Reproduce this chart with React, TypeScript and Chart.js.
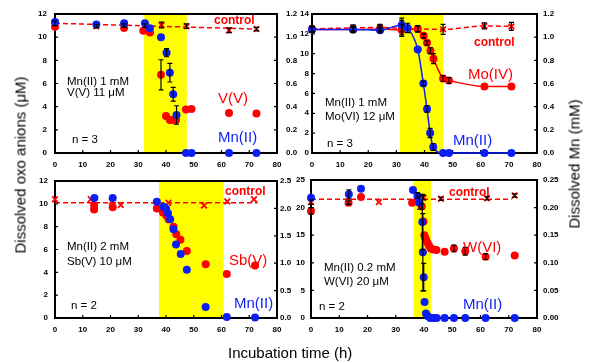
import React, { useEffect, useRef } from 'react';
import { Chart, registerables } from 'chart.js';
Chart.register(...registerables);

const RED = '#ff0000';
const BLUE = '#0a1ef5';
const YELLOW = '#ffff00';
const FONT = '"Liberation Sans", Arial, Helvetica, sans-serif';

// ---------- Panel 1 : V(V) ----------
const p1Band = [32.1, 47.5];
const p1RedX = [0, 24.9, 31.8, 34.2, 38.2, 40.0, 41.4, 42.6, 43.6, 47.2, 49.2, 62.7, 72.6];
const p1RedY = [10.9, 10.8, 10.55, 10.4, 6.75, 3.2, 2.85, 2.85, 2.85, 3.75, 3.8, 3.45, 3.4];
const p1RedErr = [0, 0, 0, 0, 1.3, 0, 0, 0, 0, 0, 0, 0, 0];
const p1BlueX = [0, 14.9, 24.9, 32.4, 34.2, 38.2, 40.2, 41.4, 42.6, 43.8, 47.2, 49.2, 62.7, 72.6];
const p1BlueY = [1.13, 1.11, 1.12, 1.12, 1.077, 1.0, 0.866, 0.693, 0.507, 0.328, 0, 0, 0, 0];
const p1BlueErr = [0, 0, 0, 0, 0, 0, 0.035, 0.08, 0.06, 0.08, 0, 0, 0, 0];
const p1CtrlX = [0, 14.9, 24.9, 32.4, 38.4, 47.4, 62.7, 72.6];
const p1CtrlY = [11.2, 10.95, 11.0, 11.0, 11.05, 10.95, 10.6, 10.7];
const p1CtrlErr = [0.2, 0.15, 0.15, 0.15, 0.25, 0.2, 0.2, 0.15];
const p1LineX = [0, 72.6];
const p1LineY = [11.2, 10.7];

// ---------- Panel 2 : Mo ----------
const p2Band = [31.3, 46.7];
const p2RedX = [0, 14.6, 24.2, 31.9, 37.6, 39.7, 40.9, 42.1, 43.2, 46.6, 48.7, 61.3, 70.9];
const p2RedY = [12.45, 12.45, 12.5, 12.4, 12.5, 11.8, 11.1, 10.3, 9.5, 7.5, 7.3, 6.7, 6.7];
const p2RedErr = [0.3, 0.3, 0.3, 0.5, 0.3, 0.2, 0.2, 0.3, 0.5, 0.3, 0.3, 0, 0];
const p2BlueX = [0, 14.6, 24.2, 31.9, 34.0, 37.6, 39.6, 40.9, 42.0, 43.1, 46.6, 48.7, 61.3, 70.9];
const p2BlueY = [1.067, 1.067, 1.06, 1.105, 1.08, 0.894, 0.6, 0.38, 0.173, 0.052, 0, 0, 0, 0];
const p2BlueErr = [0.02, 0.02, 0.02, 0.06, 0.04, 0, 0.02, 0.03, 0.04, 0.03, 0, 0, 0, 0];
const p2CtrlX = [0, 14.6, 24.2, 31.9, 37.6, 46.6, 61.3, 70.9];
const p2CtrlY = [12.5, 12.6, 12.65, 12.55, 12.5, 12.45, 12.8, 12.75];
const p2CtrlErr = [0.3, 0.3, 0.3, 0.8, 0.3, 0.5, 0.3, 0.4];

// ---------- Panel 3 : Sb ----------
const p3Band = [37.5, 60.8];
const p3RedX = [14.1, 14.1, 20.8, 36.7, 38.9, 40.0, 40.9, 42.7, 43.7, 45.2, 47.5, 54.3, 61.9, 72.1];
const p3RedY = [9.5, 9.85, 9.7, 9.6, 9.24, 9.0, 8.66, 8.0, 7.33, 6.85, 5.87, 4.7, 3.86, 4.59];
const p3BlueX = [14.2, 20.8, 36.7, 39.1, 40.0, 40.7, 41.5, 42.7, 43.6, 45.3, 47.5, 54.3, 61.9, 72.1];
const p3BlueY = [2.19, 2.19, 2.12, 2.03, 2.0, 1.91, 1.8, 1.62, 1.34, 1.17, 0.88, 0.2, 0.02, 0.01];
const p3CtrlX = [0, 12.9, 20.5, 23.7, 40.9, 53.7, 62.1, 71.7];
const p3CtrlY = [10.4, 10.4, 10.2, 9.9, 10.1, 9.85, 10.2, 10.4];
const p3LineX = [0, 73];
const p3LineY = [10.1, 10.1];

// ---------- Panel 4 : W ----------
const p4Band = [36.3, 42.5];
const p4RedX = [0, 13.3, 17.7, 35.8, 37.6, 39.2, 39.8, 40.1, 40.4, 40.8, 41.3, 41.8, 42.4, 43.3, 44.4, 47.3, 50.6, 54.6, 61.8, 72.1];
const p4RedY = [19.4, 20.9, 21.9, 20.9, 21.1, 20.2, 17.5, 15.0, 14.6, 14.1, 13.6, 13.1, 12.6, 12.4, 12.3, 12.0, 12.6, 12.1, 11.1, 11.3];
const p4RedErr = [0.6, 0.3, 0, 0, 0, 0.5, 0, 0, 0, 0, 0, 0, 0, 0, 0, 0, 0.6, 0.7, 0.5, 0];
const p4BlueX = [0, 13.4, 17.7, 36.1, 37.7, 38.4, 39.4, 39.6, 39.9, 40.2, 40.7, 41.4, 42.2, 43.4, 44.5, 47.3, 50.6, 54.6, 61.8, 72.1];
const p4BlueY = [0.218, 0.224, 0.234, 0.232, 0.221, 0.209, 0.174, 0.119, 0.074, 0.029, 0.008, 0.003, 0, 0, 0, 0, 0, 0, 0, 0];
const p4BlueErr = [0, 0.008, 0, 0, 0, 0.012, 0.05, 0.07, 0.025, 0, 0, 0, 0, 0, 0, 0, 0, 0, 0, 0];
const p4CtrlX = [0, 24, 37.6, 39.8, 46, 62.3, 72.1];
const p4CtrlY = [21.0, 21.0, 22.2, 21.8, 21.6, 21.7, 22.2];
const p4CtrlErr = [0.4, 0, 0.5, 0.4, 0.3, 0.3, 0.3];
const p4LineX = [0, 71];
const p4LineY = [21.5, 21.5];

const xTicksMax = 80;
const xStep = 10;

type Series = { x: number[]; y: number[]; err?: number[] };
type PanelDef = {
  band: number[];
  yMax: number; yStep: number;
  y1Max: number; y1Step: number; y1Dec: number;
  red: Series; blue: Series; ctrl: Series; line: Series;
  curves: boolean;
  box: { left: number; top: number; w: number; h: number; padTop: number; xH: number; lW: number; rW: number; lPad: number; rPad: number };
};

const pts = (xs: number[], ys: number[]) => xs.map((x, i) => ({ x, y: ys[i] }));

const decoPlugin = {
  id: 'deco',
  beforeDatasetsDraw(chart: any, _a: any, opts: any) {
    const { ctx, chartArea: a, scales } = chart;
    ctx.save();
    if (opts.band) {
      const x0 = scales.x.getPixelForValue(opts.band[0]);
      const x1 = scales.x.getPixelForValue(opts.band[1]);
      ctx.fillStyle = YELLOW;
      ctx.fillRect(x0, a.top, x1 - x0, a.bottom - a.top);
    }
    ctx.strokeStyle = '#000';
    ctx.lineWidth = 2;
    ctx.strokeRect(a.left, a.top, a.right - a.left, a.bottom - a.top);
    ctx.lineWidth = 1.2;
    ctx.beginPath();
    scales.x.ticks.forEach((t: any) => {
      const px = scales.x.getPixelForValue(t.value);
      ctx.moveTo(px, a.bottom);
      ctx.lineTo(px, a.bottom - 3);
    });
    scales.y.ticks.forEach((t: any) => {
      const py = scales.y.getPixelForValue(t.value);
      ctx.moveTo(a.left, py);
      ctx.lineTo(a.left + 3, py);
    });
    scales.y1.ticks.forEach((t: any) => {
      const py = scales.y1.getPixelForValue(t.value);
      ctx.moveTo(a.right, py);
      ctx.lineTo(a.right - 3, py);
    });
    ctx.stroke();
    ctx.restore();
  },
  afterDatasetsDraw(chart: any) {
    const { ctx, scales } = chart;
    ctx.save();
    ctx.strokeStyle = '#000';
    ctx.lineWidth = 1.2;
    chart.data.datasets.forEach((ds: any, i: number) => {
      const errs: number[] | undefined = ds.errorBars;
      if (!errs) return;
      const meta = chart.getDatasetMeta(i);
      const ys = scales[meta.yAxisID];
      ds.data.forEach((p: any, j: number) => {
        const e = errs[j];
        if (!e) return;
        const px = scales.x.getPixelForValue(p.x);
        const yt = ys.getPixelForValue(p.y + e);
        const yb = ys.getPixelForValue(p.y - e);
        ctx.beginPath();
        ctx.moveTo(px, yt); ctx.lineTo(px, yb);
        ctx.moveTo(px - 2.5, yt); ctx.lineTo(px + 2.5, yt);
        ctx.moveTo(px - 2.5, yb); ctx.lineTo(px + 2.5, yb);
        ctx.stroke();
      });
    });
    ctx.restore();
  },
};

function buildConfig(d: PanelDef): any {
  const tickFont = { family: FONT, size: 8, weight: 'bold' as const };
  const b = d.box;
  return {
    type: 'scatter',
    data: {
      datasets: [
        {
          data: pts(d.blue.x, d.blue.y), yAxisID: 'y1', xAxisID: 'x',
          backgroundColor: BLUE, borderColor: BLUE, pointBackgroundColor: BLUE, pointBorderColor: BLUE,
          pointRadius: 4, pointBorderWidth: 0, showLine: d.curves, borderWidth: 1.5,
          cubicInterpolationMode: 'monotone', clip: false, errorBars: d.blue.err,
        },
        {
          data: pts(d.red.x, d.red.y), yAxisID: 'y', xAxisID: 'x',
          backgroundColor: RED, borderColor: RED, pointBackgroundColor: RED, pointBorderColor: RED,
          pointRadius: 4, pointBorderWidth: 0, showLine: d.curves, borderWidth: 1.5,
          cubicInterpolationMode: 'monotone', clip: false, errorBars: d.red.err,
        },
        {
          data: pts(d.ctrl.x, d.ctrl.y), yAxisID: 'y', xAxisID: 'x',
          pointStyle: 'crossRot', pointRadius: 4, pointBorderWidth: 1.8,
          pointBorderColor: RED, borderColor: RED, backgroundColor: RED,
          showLine: false, clip: false, errorBars: d.ctrl.err,
        },
        {
          data: pts(d.line.x, d.line.y), yAxisID: 'y', xAxisID: 'x',
          showLine: true, pointRadius: 0, borderColor: RED, borderWidth: 1.5,
          borderDash: [5, 3], cubicInterpolationMode: 'monotone', clip: false,
        },
      ],
    },
    options: {
      animation: false,
      responsive: false,
      maintainAspectRatio: false,
      layout: { padding: { top: b.padTop, left: 0, right: 0, bottom: 0 } },
      plugins: {
        legend: { display: false },
        tooltip: { enabled: false },
        deco: { band: d.band },
      },
      scales: {
        x: {
          type: 'linear', position: 'bottom', min: 0, max: xTicksMax,
          grid: { display: false, drawTicks: false }, border: { display: false },
          ticks: { stepSize: xStep, padding: 7, font: tickFont, color: '#000', autoSkip: false, maxRotation: 0 },
          afterFit: (s: any) => { s.height = b.xH; },
        },
        y: {
          type: 'linear', position: 'left', min: 0, max: d.yMax,
          grid: { display: false, drawTicks: false }, border: { display: false },
          ticks: { stepSize: d.yStep, padding: b.lPad, font: tickFont, color: '#000', autoSkip: false,
            callback: (v: any) => String(Math.round(Number(v))) },
          afterFit: (s: any) => { s.width = b.lW; },
        },
        y1: {
          type: 'linear', position: 'right', min: 0, max: d.y1Max,
          grid: { display: false, drawTicks: false }, border: { display: false },
          ticks: { stepSize: d.y1Step, padding: b.rPad, font: tickFont, color: '#000', autoSkip: false,
            callback: (v: any) => Number(v).toFixed(d.y1Dec) },
          afterFit: (s: any) => { s.width = b.rW; },
        },
      },
    },
    plugins: [decoPlugin],
  };
}

const panels: PanelDef[] = [
  {
    band: p1Band, yMax: 12, yStep: 2, y1Max: 1.2, y1Step: 0.2, y1Dec: 1,
    red: { x: p1RedX, y: p1RedY, err: p1RedErr }, blue: { x: p1BlueX, y: p1BlueY, err: p1BlueErr },
    ctrl: { x: p1CtrlX, y: p1CtrlY, err: p1CtrlErr }, line: { x: p1LineX, y: p1LineY }, curves: false,
    box: { left: 0, top: 0, w: 300, h: 172, padTop: 14, xH: 19, lW: 55, rW: 23, lPad: 8, rPad: 9 },
  },
  {
    band: p2Band, yMax: 14, yStep: 2, y1Max: 1.2, y1Step: 0.2, y1Dec: 1,
    red: { x: p2RedX, y: p2RedY, err: p2RedErr }, blue: { x: p2BlueX, y: p2BlueY, err: p2BlueErr },
    ctrl: { x: p2CtrlX, y: p2CtrlY, err: p2CtrlErr }, line: { x: p2CtrlX, y: p2CtrlY }, curves: true,
    box: { left: 280, top: 0, w: 309, h: 172, padTop: 14, xH: 19, lW: 32, rW: 52, lPad: 3, rPad: 6 },
  },
  {
    band: p3Band, yMax: 12, yStep: 2, y1Max: 2.5, y1Step: 0.5, y1Dec: 1,
    red: { x: p3RedX, y: p3RedY }, blue: { x: p3BlueX, y: p3BlueY },
    ctrl: { x: p3CtrlX, y: p3CtrlY }, line: { x: p3LineX, y: p3LineY }, curves: false,
    box: { left: 0, top: 166, w: 300, h: 171, padTop: 15, xH: 19, lW: 55, rW: 23, lPad: 7, rPad: 3 },
  },
  {
    band: p4Band, yMax: 25, yStep: 5, y1Max: 0.25, y1Step: 0.05, y1Dec: 2,
    red: { x: p4RedX, y: p4RedY, err: p4RedErr }, blue: { x: p4BlueX, y: p4BlueY, err: p4BlueErr },
    ctrl: { x: p4CtrlX, y: p4CtrlY, err: p4CtrlErr }, line: { x: p4LineX, y: p4LineY }, curves: false,
    box: { left: 280, top: 166, w: 309, h: 171, padTop: 14, xH: 19, lW: 31, rW: 52, lPad: 6, rPad: 6 },
  },
];

function Panel({ def }: { def: PanelDef }) {
  const ref = useRef<HTMLCanvasElement>(null);
  useEffect(() => {
    const chart = new Chart(ref.current as HTMLCanvasElement, buildConfig(def));
    return () => chart.destroy();
  }, [def]);
  const b = def.box;
  return (
    <canvas
      ref={ref}
      width={b.w}
      height={b.h}
      style={{ position: 'absolute', left: b.left, top: b.top, width: b.w, height: b.h }}
    />
  );
}

type Lbl = { t: string; x: number; y: number; s: number; c?: string; b?: boolean };
const labels: Lbl[] = [
  { t: 'control', x: 214, y: 16, s: 12, c: RED, b: true },
  { t: 'Mn(II) 1 mM', x: 67, y: 77, s: 11.5 },
  { t: 'V(V) 11 μM', x: 67, y: 88.5, s: 11.5 },
  { t: 'n = 3', x: 72, y: 135, s: 11.5 },
  { t: 'V(V)', x: 218, y: 92, s: 15, c: RED },
  { t: 'Mn(II)', x: 218, y: 131, s: 15, c: BLUE },

  { t: 'control', x: 474, y: 38, s: 12, c: RED, b: true },
  { t: 'Mo(IV)', x: 468, y: 68, s: 15, c: RED },
  { t: 'Mn(II)', x: 453, y: 134, s: 15, c: BLUE },
  { t: 'Mn(II) 1 mM', x: 325, y: 98, s: 11.5 },
  { t: 'Mo(VI) 12 μM', x: 325, y: 112, s: 11.5 },
  { t: 'n = 3', x: 327, y: 139, s: 11.5 },

  { t: 'control', x: 225, y: 187, s: 12, c: RED, b: true },
  { t: 'Mn(II) 2 mM', x: 67, y: 242, s: 11.5 },
  { t: 'Sb(V) 10 μM', x: 67, y: 257, s: 11.5 },
  { t: 'n = 2', x: 71, y: 301, s: 11.5 },
  { t: 'Sb(V)', x: 229, y: 254, s: 15, c: RED },
  { t: 'Mn(II)', x: 234, y: 297, s: 15, c: BLUE },

  { t: 'control', x: 449, y: 188, s: 12, c: RED, b: true },
  { t: 'W(VI)', x: 463, y: 241, s: 15, c: RED },
  { t: 'Mn(II)', x: 463, y: 298, s: 15, c: BLUE },
  { t: 'Mn(II) 0.2 mM', x: 324, y: 263, s: 11.5 },
  { t: 'W(VI) 20 μM', x: 324, y: 277, s: 11.5 },
  { t: 'n = 2', x: 319, y: 302, s: 11.5 },
];

export default function App() {
  return (
    <div style={{ position: 'fixed', left: 0, top: 0, width: 589, height: 363, background: '#fff', overflow: 'hidden', fontFamily: FONT, color: '#000' }}>
      {panels.map((p, i) => <Panel key={i} def={p} />)}
      {labels.map((l, i) => (
        <div key={'l' + i} style={{
          position: 'absolute', left: l.x, top: l.y - 0.13 * l.s, fontSize: l.s, lineHeight: 1,
          color: l.c || '#000', fontWeight: l.b ? 'bold' : 'normal', whiteSpace: 'nowrap',
        }}>{l.t}</div>
      ))}
      <div style={{ position: 'absolute', left: 19.5, top: 165, transform: 'translate(-50%,-50%) rotate(-90deg)', fontSize: 15, lineHeight: 1, whiteSpace: 'nowrap', color: '#000' }}>
        Dissolved oxo anions (μM)
      </div>
      <div style={{ position: 'absolute', left: 574, top: 164, transform: 'translate(-50%,-50%) rotate(-90deg)', fontSize: 15, lineHeight: 1, whiteSpace: 'nowrap', color: '#000' }}>
        Dissolved Mn (mM)
      </div>
      <div style={{ position: 'absolute', left: 228, top: 345, fontSize: 15, lineHeight: 1, whiteSpace: 'nowrap', color: '#000' }}>
        Incubation time (h)
      </div>
    </div>
  );
}
